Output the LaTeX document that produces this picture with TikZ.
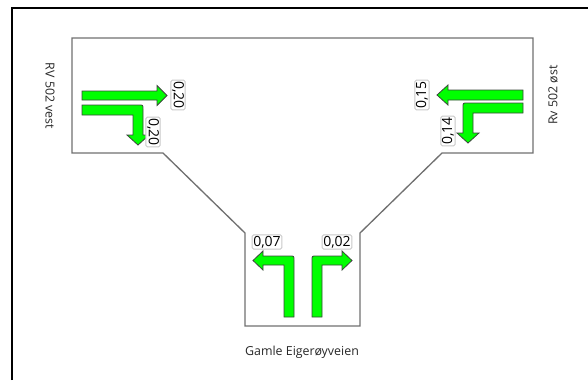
\documentclass[tikz,border=0pt]{standalone}
\usepackage{fontspec}
\setsansfont{Open Sans}
\tikzset{every picture/.style={line width=0.75pt}}
\tikzset{
  turnarrow/.style={fill={rgb,255:red,0;green,255;blue,0}, draw={rgb,255:red,60;green,70;blue,60}, line width=0.6pt},
  flowlabel/.style={draw={rgb,255:red,200;green,200;blue,200}, fill=white, rounded corners=1pt, inner sep=0.8pt, font=\sffamily\fontsize{10.5}{11}\selectfont},
  roadname/.style={inner sep=0.75pt, text={rgb,255:red,40;green,40;blue,40}, font=\sffamily\fontsize{9.3}{10}\selectfont}
}
\begin{document}
\begin{tikzpicture}[x=0.75pt,y=0.75pt,yscale=-1,xscale=1]
\useasboundingbox (0,0) rectangle (588,380);

%Frame
\draw [line width=2.2pt] (12,380) -- (12,8) -- (588,8) ;
%Shape: junction outline
\draw [color={rgb,255:red,112;green,112;blue,112}, line width=1pt] (72,38) -- (533,38) -- (533,153) -- (442,153) -- (360,233) -- (360,326) -- (245,326) -- (245,233) -- (163,153) -- (72,153) -- cycle ;

%Arrows from Rv 502 vest
\draw [turnarrow] (82,91) -- (157,91) -- (157,85.5) -- (167,95.5) -- (157,105.5) -- (157,100) -- (82,100) -- cycle ;
\draw [turnarrow] (82,105) -- (139,105) .. controls (143,105) .. (143,109) -- (143,135) -- (149,135) -- (138,145) -- (127,135) -- (133,135) -- (133,115) -- (82,115) -- cycle ;
%Arrows from Rv 502 øst
\draw [turnarrow] (523,90) -- (448,90) -- (448,85) -- (437,95) -- (448,105) -- (448,100) -- (523,100) -- cycle ;
\draw [turnarrow] (523,103) -- (467,103) .. controls (463,103) .. (463,107) -- (463,133) -- (457,133) -- (468,143) -- (479,133) -- (473,133) -- (473,113) -- (523,113) -- cycle ;
%Arrows from Gamle Eigerøyveien
\draw [turnarrow] (294,317) -- (294,260) .. controls (294,256) .. (290,256) -- (263,256) -- (263,251) -- (253,260.5) -- (263,270) -- (263,265) -- (284,265) -- (284,317) -- cycle ;
\draw [turnarrow] (312,317) -- (312,260) .. controls (312,256) .. (316,256) -- (342,256) -- (342,251) -- (352,260.5) -- (342,270) -- (342,265) -- (322,265) -- (322,317) -- cycle ;

% Flow labels
\node [flowlabel, rotate=-90] (vestthrough) at (178,95) {0,20};
\node [flowlabel, rotate=-90] (vestright) at (153,132) {0,20};
\node [flowlabel, rotate=90] (ostthrough) at (422,95) {0,15};
\node [flowlabel, rotate=90] (ostleft) at (448,131) {0,14};
\node [flowlabel] (gamleleft) at (267,242) {0,07};
\node [flowlabel] (gamleright) at (337,242) {0,02};

% Road names
\node [roadname, rotate=-90] (vest) at (50,96) {RV 502 vest};
\node [roadname, rotate=90] (ost) at (553,95) {Rv 502 øst};
\node [roadname] (gamle) at (302,352) {Gamle Eigerøyveien};

\end{tikzpicture}
\end{document}
